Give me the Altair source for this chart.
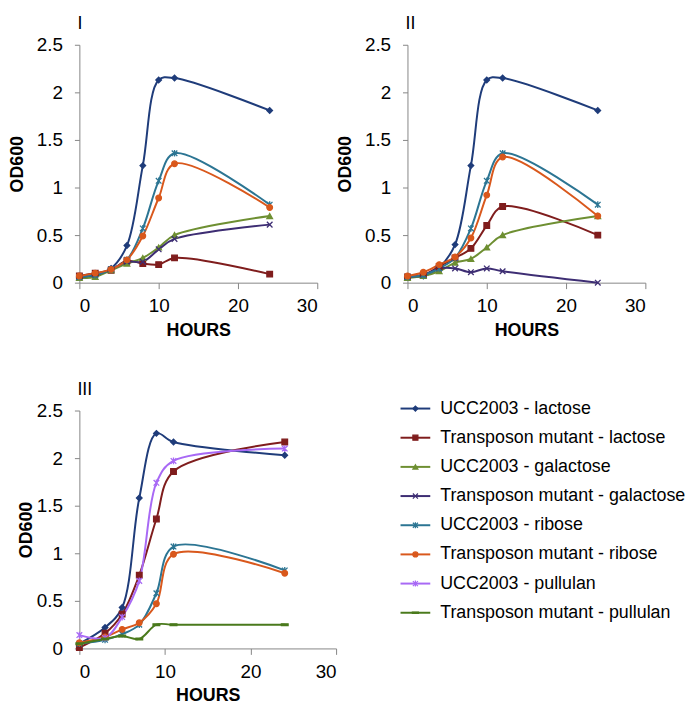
import altair as alt
import pandas as pd

SERIES = ["UCC2003 - lactose", "Transposon mutant - lactose", "UCC2003 - galactose",
          "Transposon mutant - galactose", "UCC2003 - ribose", "Transposon mutant - ribose",
          "UCC2003 - pullulan", "Transposon mutant - pullulan"]
COLORS = ["#1F3C7A", "#7F1D1D", "#6E8F32", "#3D2D73", "#2C7593", "#D9581C", "#A869F5", "#4A7A1C"]
XMARK = "M-1,-1L1,1M1,-1L-1,1"
STAR = "M-1,-1L1,1M1,-1L-1,1M0,-1.2L0,1.2"
DASH = "M-1.2,-0.3H1.2V0.3H-1.2Z"
SHAPES = ["diamond", "square", "triangle-up", XMARK, STAR, "circle", STAR, DASH]

# Panel I
hours_1 = [0, 2, 4, 6, 8, 10, 12, 24]
p1_ucc_lac = [0.06, 0.08, 0.15, 0.39, 1.23, 2.13, 2.15, 1.81]
p1_tn_lac = [0.07, 0.10, 0.13, 0.23, 0.20, 0.19, 0.26, 0.09]
p1_ucc_gal = [0.05, 0.06, 0.13, 0.20, 0.26, 0.37, 0.50, 0.70]
p1_tn_gal = [0.06, 0.08, 0.14, 0.22, 0.22, 0.35, 0.46, 0.61]
p1_ucc_rib = [0.06, 0.08, 0.14, 0.24, 0.57, 1.07, 1.36, 0.82]
p1_tn_rib = [0.07, 0.10, 0.14, 0.24, 0.49, 0.89, 1.25, 0.79]

# Panel II
hours_2 = [0, 2, 4, 6, 8, 10, 12, 24]
p2_ucc_lac = [0.06, 0.07, 0.16, 0.40, 1.23, 2.13, 2.15, 1.81]
p2_tn_lac = [0.06, 0.08, 0.17, 0.26, 0.36, 0.60, 0.80, 0.50]
p2_ucc_gal = [0.05, 0.07, 0.12, 0.21, 0.25, 0.37, 0.50, 0.70]
p2_tn_gal = [0.06, 0.08, 0.15, 0.15, 0.11, 0.15, 0.12, 0.00]
p2_ucc_rib = [0.06, 0.08, 0.15, 0.26, 0.57, 1.07, 1.36, 0.82]
p2_tn_rib = [0.07, 0.11, 0.19, 0.27, 0.47, 0.92, 1.32, 0.70]

# Panel III
hours_3 = [0, 3, 5, 7, 9, 11, 24]
p3_ucc_lac = [0.05, 0.22, 0.43, 1.58, 2.26, 2.17, 2.03]
p3_tn_lac = [0.01, 0.16, 0.36, 0.77, 1.36, 1.86, 2.17]
p3_ucc_rib = [0.05, 0.09, 0.15, 0.25, 0.58, 1.07, 0.82]
p3_tn_rib = [0.06, 0.12, 0.20, 0.27, 0.47, 0.99, 0.79]
p3_ucc_pul = [0.14, 0.11, 0.33, 0.71, 1.74, 1.97, 2.10]
p3_tn_pul = [0.05, 0.10, 0.13, 0.10, 0.25, 0.25, 0.25]


def long(hours, pairs):
    rows = []
    for name, vals in pairs:
        for h, v in zip(hours, vals):
            rows.append({"h": h, "od": v, "s": name})
    return pd.DataFrame(rows)


df1 = long(hours_1, [(SERIES[0], p1_ucc_lac), (SERIES[1], p1_tn_lac), (SERIES[2], p1_ucc_gal),
                     (SERIES[3], p1_tn_gal), (SERIES[4], p1_ucc_rib), (SERIES[5], p1_tn_rib)])
df2 = long(hours_2, [(SERIES[0], p2_ucc_lac), (SERIES[1], p2_tn_lac), (SERIES[2], p2_ucc_gal),
                     (SERIES[3], p2_tn_gal), (SERIES[4], p2_ucc_rib), (SERIES[5], p2_tn_rib)])
df3 = long(hours_3, [(SERIES[0], p3_ucc_lac), (SERIES[1], p3_tn_lac), (SERIES[4], p3_ucc_rib),
                     (SERIES[5], p3_tn_rib), (SERIES[6], p3_ucc_pul), (SERIES[7], p3_tn_pul)])

FONT = "Liberation Sans"


def panel(df, label, w, tpad):
    base = alt.Chart(df)
    x = alt.X("h:Q", scale=alt.Scale(domain=[0, 30], nice=False),
              axis=alt.Axis(values=[0, 10, 20, 30], title="HOURS", tickSize=6,
                            labelPadding=8, titlePadding=6))
    y = alt.Y("od:Q", scale=alt.Scale(domain=[0, 2.5], nice=False),
              axis=alt.Axis(values=[0, 0.5, 1, 1.5, 2, 2.5], title="OD600", tickSize=5,
                            labelPadding=12, titlePadding=tpad, labelExpr="datum.value"))
    color = alt.Color("s:N", scale=alt.Scale(domain=SERIES, range=COLORS), legend=None)
    fill = alt.Fill("s:N", scale=alt.Scale(domain=SERIES, range=COLORS), legend=None)
    stroke = alt.Stroke("s:N", scale=alt.Scale(domain=SERIES, range=COLORS), legend=None)
    shape = alt.Shape("s:N", scale=alt.Scale(domain=SERIES, range=SHAPES), legend=None)
    lines = base.mark_line(interpolate="catmull-rom", strokeWidth=2).encode(x=x, y=y, color=color)
    pts = base.mark_point(filled=True, size=32, strokeWidth=1.3, opacity=1).encode(
        x=x, y=y, fill=fill, stroke=stroke, shape=shape)
    return (lines + pts).properties(
        width=w, height=240,
        title=alt.TitleParams(label, anchor="start", frame="group", dx=-2, offset=3, fontSize=18,
                              font=FONT, fontWeight="normal", color="black"))


legend_order = list(range(len(SERIES)))
ldf = pd.DataFrame({"s": SERIES, "i": legend_order})
ly = alt.Y("i:Q", scale=alt.Scale(domain=[0, 7], range=[-2, 204]), axis=None)
lcol = alt.Color("s:N", scale=alt.Scale(domain=SERIES, range=COLORS), legend=None)
lfill = alt.Fill("s:N", scale=alt.Scale(domain=SERIES, range=COLORS), legend=None)
lstroke = alt.Stroke("s:N", scale=alt.Scale(domain=SERIES, range=COLORS), legend=None)
lshape = alt.Shape("s:N", scale=alt.Scale(domain=SERIES, range=SHAPES), legend=None)
lbase = alt.Chart(ldf)
lrule = lbase.mark_rule(strokeWidth=2).encode(x=alt.value(0), x2=alt.value(30), y=ly, color=lcol)
lpts = lbase.mark_point(filled=True, size=26, strokeWidth=1.2, opacity=1).encode(
    x=alt.value(15), y=ly, fill=lfill, stroke=lstroke, shape=lshape)
ltext = lbase.mark_text(align="left", baseline="middle", font=FONT, fontSize=18, color="black").encode(
    x=alt.value(40), y=ly, text="s:N")
legend = (lrule + lpts + ltext).properties(width=250, height=206)

p1 = panel(df1, "I", 240, 10)
p2 = panel(df2, "II", 240, 10)
p3 = panel(df3, "III", 259, 1)

top = alt.hconcat(p1, p2, spacing=18)
bottom = alt.hconcat(p3, legend, spacing=63)
chart = alt.vconcat(top, bottom, spacing=42).properties(
    padding={"left": 0, "top": 4, "right": 0, "bottom": 0}).configure_view(
    stroke=None).configure_axis(
    labelFont=FONT, labelFontSize=19, labelColor="black", titleFont=FONT, titleFontSize=18,
    titleFontWeight="bold", titleColor="black", domainColor="#868686", tickColor="#868686",
    grid=False, domainWidth=1)

chart.save("out.html", embed_options={"renderer": "svg", "actions": False})
